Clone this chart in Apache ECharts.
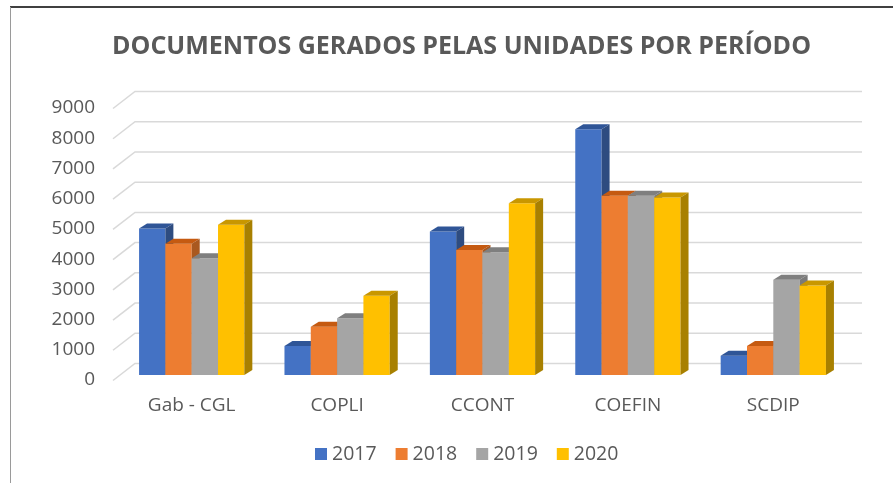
<!DOCTYPE html>
<html>
<head>
<meta charset="utf-8">
<script src="https://cdn.jsdelivr.net/npm/echarts@6/dist/echarts.min.js"></script>
<style>
  html, body { margin: 0; padding: 0; background: #fff; }
  #chart { width: 893px; height: 483px; }
</style>
</head>
<body>
<div id="chart"></div>
<script>
// unidades e anos
var categorias = ['Gab - CGL', 'COPLI', 'CCONT', 'COEFIN', 'SCDIP'];
var anos = ['2017', '2018', '2019', '2020'];
// documentos por ano
var docs2017 = [4850, 960, 4750, 8130, 640];
var docs2018 = [4340, 1600, 4140, 5930, 960];
var docs2019 = [3860, 1880, 4060, 5930, 3150];
var docs2020 = [4970, 2620, 5680, 5870, 2960];
var ticksY = [0, 1000, 2000, 3000, 4000, 5000, 6000, 7000, 8000, 9000];

var cores = [
    { front: '#4472C4', top: '#2F5597', side: '#2E4C80' },
    { front: '#ED7D31', top: '#C55A11', side: '#A9581F' },
    { front: '#A5A5A5', top: '#7F7F7F', side: '#7A7A7A' },
    { front: '#FFC000', top: '#C99700', side: '#A88000' }
];
var valores = [docs2017, docs2018, docs2019, docs2020];

var fonte = '"Open Sans", "Liberation Sans", sans-serif';

// barra 3D (frente, topo e lateral)
function barra3d(idx) {
    return function (params, api) {
        var ci = api.value(0), v = api.value(1);
        var base = api.coord([ci, 0]);
        var alto = api.coord([ci, v]);
        var band = api.size([1, 0])[0];
        var bw = band * 0.181;
        var x0 = base[0] + (idx - 2) * bw;
        var yb = base[1], yt = alto[1];
        var dx = 8, dy = 5;
        var c = cores[idx];
        return {
            type: 'group',
            children: [
                { type: 'rect', shape: { x: x0, y: yt, width: bw, height: yb - yt },
                  style: { fill: c.front } },
                { type: 'polygon', shape: { points: [[x0, yt], [x0 + dx, yt - dy], [x0 + bw + dx, yt - dy], [x0 + bw, yt]] },
                  style: { fill: c.top } },
                { type: 'polygon', shape: { points: [[x0 + bw, yt], [x0 + bw + dx, yt - dy], [x0 + bw + dx, yb - dy], [x0 + bw, yb]] },
                  style: { fill: c.side } }
            ]
        };
    };
}

// linhas de grade na parede do fundo
function grade(params, api) {
    var v = api.value(0);
    var p = api.coord([0, v]);
    var cs = params.coordSys;
    var y = p[1];
    return {
        type: 'polyline',
        shape: { points: [[cs.x - 6, y + 5.5], [cs.x + 16, y - 11.5], [cs.x + cs.width + 16, y - 11.5]] },
        style: { stroke: '#D9D9D9', lineWidth: 1.5, fill: null },
        silent: true
    };
}

var series = [{
    type: 'custom',
    renderItem: grade,
    data: ticksY.map(function (t) { return [t]; }),
    encode: { y: 0 },
    z: 1,
    silent: true
}];
for (var i = 0; i < anos.length; i++) {
    series.push({
        name: anos[i],
        type: 'custom',
        renderItem: barra3d(i),
        itemStyle: { color: cores[i].front },
        data: valores[i].map(function (v, k) { return [k, v]; }),
        encode: { x: 0, y: 1 },
        z: 2
    });
}

var myChart = echarts.init(document.getElementById('chart'));
var option = {
    backgroundColor: '#fff',
    animation: false,
    title: {
        text: 'DOCUMENTOS GERADOS PELAS UNIDADES POR PERÍODO',
        left: 107,
        top: 29,
        textStyle: {
            fontFamily: '"Open Sans", sans-serif',
            fontSize: 25,
            fontWeight: 'bold',
            color: '#595959'
        }
    },
    legend: {
        data: anos,
        left: 310,
        top: 439,
        icon: 'rect',
        itemWidth: 12,
        itemHeight: 12,
        itemGap: 19,
        textStyle: { fontFamily: fonte, fontSize: 19.5, color: '#595959' }
    },
    grid: { left: 119, right: 47, top: 103, bottom: 108, containLabel: false },
    xAxis: {
        type: 'category',
        data: categorias,
        axisLine: { show: false },
        axisTick: { show: false },
        axisLabel: { margin: 21, fontFamily: fonte, fontSize: 19, color: '#595959' }
    },
    yAxis: {
        type: 'value',
        min: 0,
        max: 9000,
        interval: 1000,
        splitLine: { show: false },
        axisLine: { show: false },
        axisTick: { show: false },
        axisLabel: {
            margin: 24, fontFamily: fonte, fontSize: 19, color: '#595959',
            verticalAlign: 'top', lineHeight: 10,
            formatter: function (v) { return String(v); }
        }
    },
    graphic: [
        { type: 'line', shape: { x1: 10, y1: 7, x2: 893, y2: 7 }, style: { stroke: '#000', lineWidth: 1.5 } },
        { type: 'line', shape: { x1: 10.5, y1: 7, x2: 10.5, y2: 483 }, style: { stroke: '#9a9a9a', lineWidth: 1 } }
    ],
    series: series
};
myChart.setOption(option);
</script>
</body>
</html>
